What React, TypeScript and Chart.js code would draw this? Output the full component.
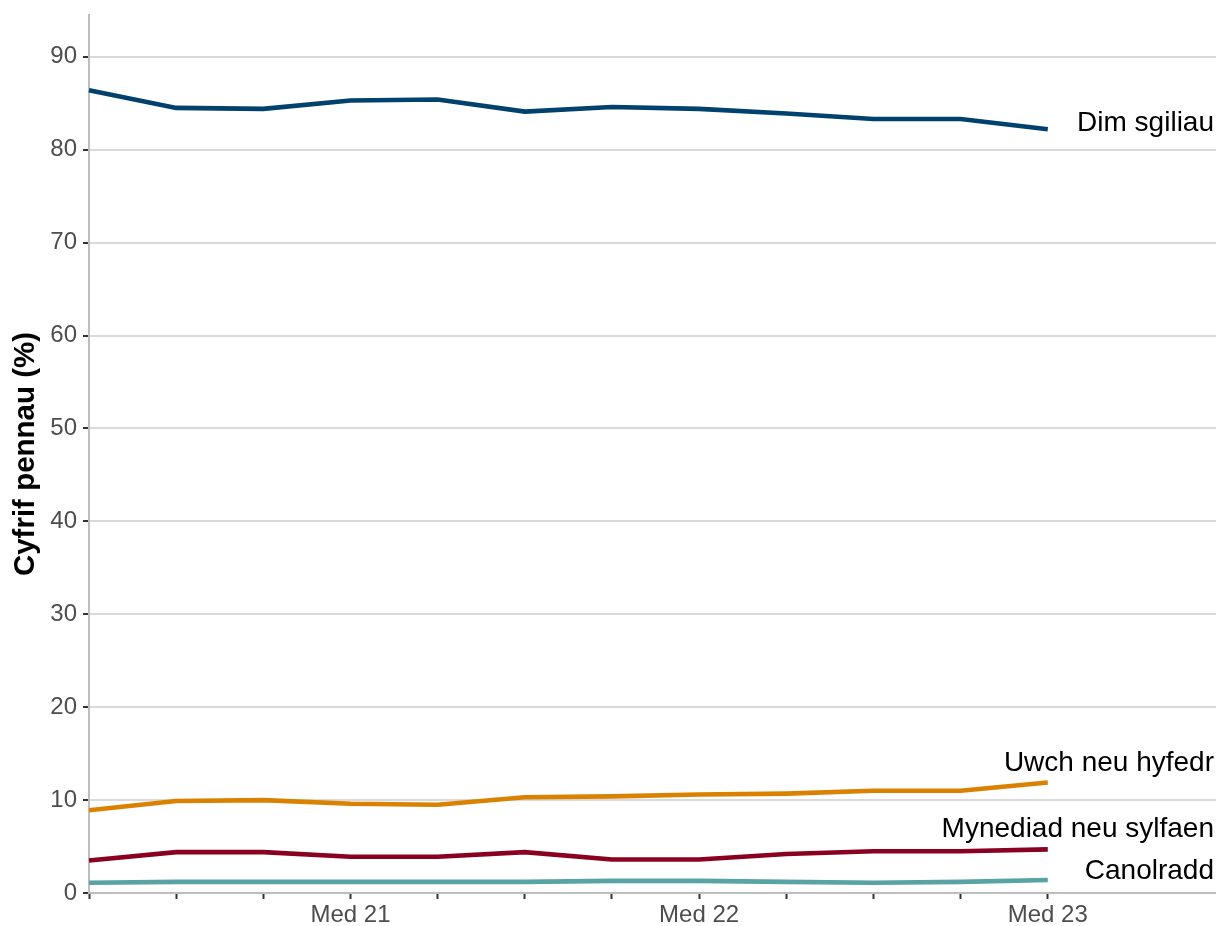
import React, { useEffect, useRef } from "react";
import { Chart, registerables } from "chart.js";

Chart.register(...registerables);

const periods = ["Maw 21", "Meh 21", "Gor 21", "Med 21", "Rha 21", "Maw 22", "Meh 22", "Med 22", "Rha 22", "Maw 23", "Meh 23", "Med 23"];
const tickLabelIndex = [3, 7, 11];
const seriesNames = ["Dim sgiliau", "Uwch neu hyfedr", "Mynediad neu sylfaen", "Canolradd"];
const dimSgiliau = [86.4, 84.5, 84.4, 85.3, 85.4, 84.1, 84.6, 84.4, 83.9, 83.3, 83.3, 82.2];
const uwchNeuHyfedr = [8.9, 9.9, 10.0, 9.6, 9.5, 10.3, 10.4, 10.6, 10.7, 11.0, 11.0, 11.9];
const mynediadNeuSylfaen = [3.5, 4.4, 4.4, 3.9, 3.9, 4.4, 3.6, 3.6, 4.2, 4.5, 4.5, 4.7];
const canolradd = [1.1, 1.2, 1.2, 1.2, 1.2, 1.2, 1.3, 1.3, 1.2, 1.1, 1.2, 1.4];
const labelAnchors = [82.8, 14.0, 6.9, 2.3];
const colors = ["#00416E", "#DB8100", "#8A0020", "#58A4A4"];
const yTicks = [0, 10, 20, 30, 40, 50, 60, 70, 80, 90];

const FONT = "'Liberation Sans', Arial, Helvetica, sans-serif";

export default function App() {
  const ref = useRef<HTMLCanvasElement | null>(null);

  useEffect(() => {
    document.body.style.margin = "0";
    const canvas = ref.current;
    if (!canvas) return;
    const allSeries = [dimSgiliau, uwchNeuHyfedr, mynediadNeuSylfaen, canolradd];

    const endLabels = {
      id: "endLabels",
      afterDatasetsDraw(chart: any) {
        const ctx = chart.ctx;
        const y = chart.scales.y;
        ctx.save();
        ctx.font = `28px ${FONT}`;
        ctx.fillStyle = "#000000";
        ctx.textAlign = "right";
        ctx.textBaseline = "middle";
        seriesNames.forEach((name, i) => {
          ctx.fillText(name, chart.chartArea.right - 2, y.getPixelForValue(labelAnchors[i]));
        });
        ctx.restore();
      },
    };

    const chart = new Chart(canvas, {
      type: "line",
      data: {
        datasets: seriesNames.map((name, i) => ({
          label: name,
          data: allSeries[i].map((v, k) => ({ x: k, y: v })),
          borderColor: colors[i],
          backgroundColor: colors[i],
          borderWidth: 4.6,
          pointRadius: 0,
          tension: 0,
          clip: false as any,
        })),
      },
      options: {
        animation: false,
        responsive: false,
        maintainAspectRatio: false,
        layout: { padding: { top: 15, right: 0, left: 0, bottom: 0 } },
        plugins: { legend: { display: false }, tooltip: { enabled: false } },
        scales: {
          x: {
            type: "linear",
            min: 0,
            max: 12.93,
            afterBuildTicks(scale: any) {
              scale.ticks = periods.map((_, k) => ({ value: k }));
            },
            afterFit(scale: any) {
              scale.height = 33;
              scale.paddingLeft = 0;
              scale.paddingRight = 0;
            },
            ticks: {
              autoSkip: false,
              maxRotation: 0,
              padding: 2,
              color: "#4D4D4D",
              font: { family: FONT, size: 24 },
              callback: (v: any) => (tickLabelIndex.includes(Number(v)) ? periods[Number(v)] : ""),
            },
            grid: {
              drawOnChartArea: false,
              drawTicks: true,
              tickLength: 6,
              tickColor: "#333333",
              tickWidth: 2,
            },
            border: { display: true, color: "#BEBEBE", width: 2 },
          },
          y: {
            type: "linear",
            min: 0,
            max: 94.5,
            afterBuildTicks(scale: any) {
              scale.ticks = yTicks.map((v) => ({ value: v }));
            },
            afterFit(scale: any) {
              scale.width = 89;
              scale.paddingTop = 0;
              scale.paddingBottom = 0;
            },
            ticks: {
              padding: 6,
              color: "#4D4D4D",
              font: { family: FONT, size: 24 },
            },
            grid: {
              color: "#DADADA",
              lineWidth: 2,
              drawTicks: true,
              tickLength: 6,
              tickColor: "#333333",
              tickWidth: 2,
            },
            border: { display: true, color: "#BEBEBE", width: 2 },
            title: {
              display: true,
              text: "Cyfrif pennau (%)",
              color: "#000000",
              font: { family: FONT, size: 29.5, weight: "bold" },
              padding: { top: 8, bottom: 0 },
            },
          },
        },
      },
      plugins: [endLabels],
    });
    return () => chart.destroy();
  }, []);

  return (
    <div style={{ width: 1216, height: 926 }}>
      <canvas ref={ref} width={1216} height={926} style={{ display: "block" }} />
    </div>
  );
}
